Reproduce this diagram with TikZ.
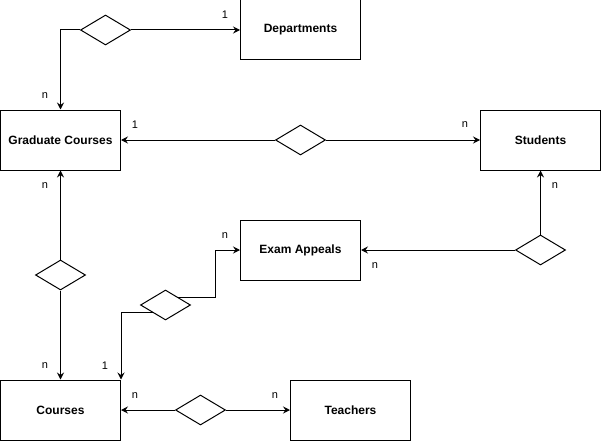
\documentclass[tikz,border=0pt]{standalone}
\usepackage{fontspec}
\setmainfont{Liberation Sans}
\usetikzlibrary{shapes.geometric,arrows.meta}
\begin{document}
\begin{tikzpicture}[x=1pt,y=-1pt,
  entity/.style={draw,line width=1pt,minimum width=120pt,minimum height=60pt,inner sep=0pt,
    font=\fontsize{12}{14}\selectfont\bfseries},
  rel/.style={draw,line width=1pt,diamond,minimum width=50pt,minimum height=30pt,inner sep=0pt},
  conn/.style={line width=1pt,-{Stealth[length=7pt,width=7pt,inset=2.5pt]}},
  link/.style={line width=1pt},
  card/.style={font=\fontsize{11}{13}\selectfont,inner sep=0pt}]
\useasboundingbox (0,0) rectangle (601,441);

% entities
\node[entity] (dep) at (300.5,30) {Departments};
\node[entity] (gc)  at (60.5,140) {Graduate Courses};
\node[entity] (st)  at (540.5,140) {Students};
\node[entity] (ea)  at (300.5,250) {Exam Appeals};
\node[entity] (co)  at (60.5,410) {Courses};
\node[entity] (te)  at (350.5,410) {Teachers};

% relationships
\node[rel] (rd) at (105.5,30) {};
\node[rel] (rm) at (300.5,140) {};
\node[rel] (rl) at (60.5,275) {};
\node[rel] (rx) at (165.5,305) {};
\node[rel] (rs) at (540.5,250) {};
\node[rel] (rb) at (200.5,410) {};

% connectors
\draw[conn] (rd.west) -| (gc.north);
\draw[conn] (rd.east) -- (dep.west);
\draw[conn] (rm.west) -- (gc.east);
\draw[conn] (rm.east) -- (st.west);
\draw[conn] (rl.north) -- (gc.south);
\draw[conn] (rl.south) -- (co.north);
\draw[conn] (rx.south west) -| (co.north east);
\draw[conn] (rx.north east) -| ([xshift=-25pt]ea.west) -- (ea.west);
\draw[conn] (rs.north) -- (st.south);
\draw[conn] (rs.west) -- (ea.east);
\draw[conn] (rb.west) -- (co.east);
\draw[conn] (rb.east) -- (te.west);

% cardinalities
\node[card] (c1)  at (45,96)   {n};
\node[card] (c2)  at (225,15)  {1};
\node[card] (c3)  at (135,125) {1};
\node[card] (c4)  at (465,125) {n};
\node[card] (c5)  at (45,186)  {n};
\node[card] (c6)  at (45,366)  {n};
\node[card] (c7)  at (105,366) {1};
\node[card] (c8)  at (225,236) {n};
\node[card] (c9)  at (375,266) {n};
\node[card] (c10) at (555,186) {n};
\node[card] (c11) at (135,396) {n};
\node[card] (c12) at (275,396) {n};
\end{tikzpicture}
\end{document}
